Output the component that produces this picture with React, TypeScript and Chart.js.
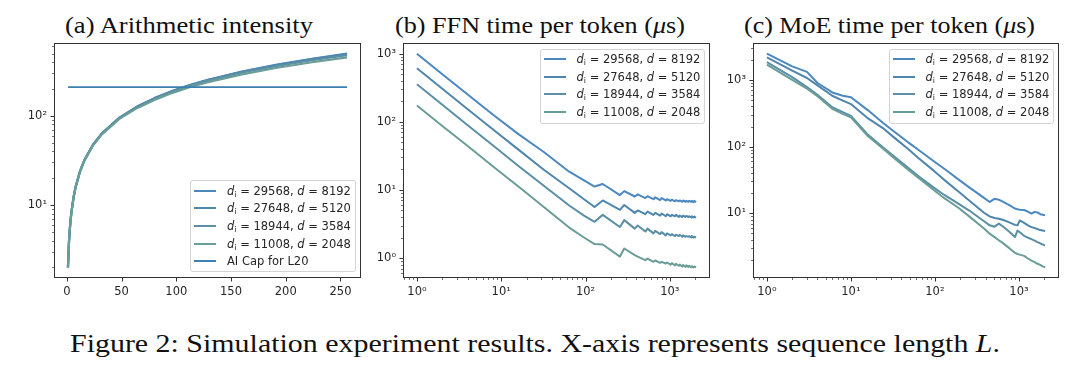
import React, { useEffect, useLayoutEffect, useRef } from 'react';
import { Chart, registerables } from 'chart.js';

Chart.register(...registerables);

const SANS = '"DejaVu Sans", "Noto Sans", sans-serif';
const SERIF = '"Liberation Serif", Tinos, "Times New Roman", Times, serif';

// ---------------- (a) Arithmetic intensity ----------------
const aiSeqLen = [1, 2, 3, 4, 6, 8, 12, 16, 24, 32, 48, 64, 80, 96, 112, 128, 160, 192, 224, 256];
const aiD8192 = [2.0, 4.0, 6.0, 8.0, 12.0, 16.0, 24.0, 31.9, 47.8, 63.7, 95.4, 127, 158, 190, 221, 252, 314, 376, 437, 498];
const aiD5120 = [2.0, 4.0, 6.0, 8.0, 12.0, 15.9, 23.9, 31.8, 47.6, 63.4, 94.9, 126, 157, 188, 219, 250, 311, 372, 432, 492];
const aiD3584 = [2.0, 4.0, 6.0, 8.0, 11.9, 15.9, 23.8, 31.7, 47.4, 63.1, 94.3, 125, 156, 186, 217, 247, 306, 364, 421, 478];
const aiD2048 = [2.0, 4.0, 5.9, 7.9, 11.9, 15.8, 23.6, 31.4, 46.8, 62.0, 92.4, 122, 151, 180, 209, 237, 292, 346, 399, 452];
const aiCapSeqLen = [1, 256];
const aiCapValue = [210, 210];

// ---------------- (b) FFN time per token (us) ----------------
const ffnSeqLen = [1, 2, 4, 8, 16, 32, 64, 96, 128, 160, 256, 288, 384, 416, 512, 544, 640, 672, 768, 800, 896, 928, 1024, 1056, 1152, 1184, 1280, 1312, 1408, 1440, 1536, 1568, 1664, 1696, 1792, 1824, 1920, 1952, 2048];
const ffnD8192 = [1000, 500, 252, 127, 66, 36, 18.5, 13.8, 11.2, 12.2, 8.4, 9.6, 8.0, 8.6, 7.6, 8.1, 7.3, 7.8, 7.1, 7.6, 7.0, 7.3, 6.9, 7.2, 6.8, 7.1, 6.8, 7.0, 6.7, 7.0, 6.7, 6.9, 6.7, 6.9, 6.7, 6.9, 6.6, 6.9, 6.6];
const ffnD5120 = [611, 306, 153, 77, 39, 19.8, 10.6, 7.3, 5.6, 7.0, 5.1, 6.0, 4.6, 5.0, 4.4, 4.8, 4.3, 4.6, 4.2, 4.5, 4.1, 4.4, 4.1, 4.3, 4.1, 4.3, 4.0, 4.2, 4.0, 4.2, 4.0, 4.15, 4.0, 4.1, 3.95, 4.1, 3.95, 4.05, 3.9];
const ffnD3584 = [356, 178, 89, 45, 22.5, 11.5, 5.9, 4.2, 3.4, 4.3, 2.85, 3.6, 2.7, 3.0, 2.45, 2.7, 2.3, 2.5, 2.25, 2.4, 2.15, 2.3, 2.15, 2.25, 2.1, 2.2, 2.1, 2.2, 2.05, 2.15, 2.05, 2.1, 2.05, 2.1, 2.0, 2.1, 2.0, 2.05, 2.0];
const ffnD2048 = [174, 87, 44, 22, 11.2, 5.6, 2.8, 2.0, 1.6, 1.58, 1.05, 1.38, 1.1, 1.05, 0.93, 0.98, 0.88, 0.92, 0.85, 0.88, 0.83, 0.86, 0.8, 0.84, 0.78, 0.82, 0.77, 0.8, 0.75, 0.79, 0.74, 0.78, 0.74, 0.77, 0.73, 0.76, 0.73, 0.75, 0.73];

// ---------------- (c) MoE time per token (us) ----------------
const moeSeqLen = [1, 2, 3, 4, 6, 8, 10, 16, 24, 32, 48, 64, 96, 128, 192, 256, 384, 448, 512, 576, 640, 768, 896, 960, 1024, 1152, 1280, 1408, 1536, 1664, 1792, 1920, 2048];
const moeD8192 = [2480, 1600, 1320, 900, 650, 580, 550, 350, 228, 172, 116, 89, 61, 47, 32, 24.5, 17, 14.8, 16.5, 16.0, 15.0, 13.3, 11.8, 11.5, 11.3, 11.2, 10.6, 9.9, 10.5, 10.3, 9.7, 9.5, 9.3];
const moeD5120 = [2180, 1380, 1070, 830, 580, 490, 435, 265, 190, 140, 92, 67, 44, 32, 21, 15.5, 10.2, 9.0, 8.5, 8.3, 8.0, 7.3, 6.7, 6.6, 7.8, 7.2, 6.6, 6.2, 6.0, 5.8, 5.6, 5.5, 5.4];
const moeD3584 = [1850, 1100, 780, 600, 390, 330, 290, 150, 98, 73, 48, 36, 24.5, 19, 13.8, 11.0, 7.6, 6.6, 6.3, 7.0, 6.4, 5.3, 4.4, 5.5, 5.2, 4.6, 4.3, 4.1, 3.9, 3.7, 3.55, 3.4, 3.3];
const moeD2048 = [1700, 1000, 740, 570, 370, 310, 275, 143, 94, 69, 45, 34, 22.5, 17, 12, 9.0, 5.9, 4.95, 4.4, 3.95, 3.6, 3.0, 2.55, 2.45, 2.4, 2.3, 2.1, 1.95, 1.85, 1.75, 1.68, 1.6, 1.55];

// ---------------- labels / ticks ----------------
const seriesDi = ['29568', '27648', '18944', '11008'];
const seriesD = ['8192', '5120', '3584', '2048'];
const capLabel = 'AI Cap for L20';
const seriesColors = ['#4c88c0', '#4f86ad', '#5a8fa6', '#6a9d98'];
const capColor = '#3c7fb1';

const aiXTicks = [0, 50, 100, 150, 200, 250];
const aiXRange = [-11.75, 268.75];
const aiYRange = [1.52, 656];
const ffnXRange = [0.683, 2999];
const ffnYRange = [0.509, 1435];
const moeXRange = [0.683, 2999];
const moeYRange = [1.07, 3584];

const SUP: Record<string, string> = { '-1': '⁻¹', '0': '⁰', '1': '¹', '2': '²', '3': '³', '4': '⁴' };
const pow10Label = (v: number) => '10' + SUP[String(Math.round(Math.log10(v)))];
const isPow10 = (v: number) => Math.abs(Math.log10(v) - Math.round(Math.log10(v))) < 1e-9;

function logTickValues(min: number, max: number) {
  const out: number[] = [];
  for (let e = Math.floor(Math.log10(min)); e <= Math.ceil(Math.log10(max)); e++) {
    for (let k = 1; k <= 9; k++) {
      const v = Number((k * Math.pow(10, e)).toPrecision(6));
      if (v >= min && v <= max) out.push(v);
    }
  }
  return out;
}

// ---------------- layout constants ----------------
const CANVAS_H = 310;
const PLOT_TOP = 43;
const PLOT_BOTTOM = 278;
const X_AXIS_H = 24;
const TICK_FONT = 11.5;

const axesFrame = {
  id: 'axesFrame',
  afterDraw(chart: any) {
    const { ctx, chartArea: ca, scales } = chart;
    const l = Math.round(ca.left), r = Math.round(ca.right), t = Math.round(ca.top), b = Math.round(ca.bottom);
    ctx.save();
    ctx.strokeStyle = '#333333';
    for (const tk of scales.x.ticks) {
      const px = Math.round(scales.x.getPixelForValue(tk.value)) + 0.5;
      ctx.lineWidth = tk.major ? 1 : 0.7;
      ctx.beginPath();
      ctx.moveTo(px, b);
      ctx.lineTo(px, b + (tk.major ? 3.5 : 2));
      ctx.stroke();
    }
    for (const tk of scales.y.ticks) {
      const py = Math.round(scales.y.getPixelForValue(tk.value)) + 0.5;
      ctx.lineWidth = tk.major ? 1 : 0.7;
      ctx.beginPath();
      ctx.moveTo(l, py);
      ctx.lineTo(l - (tk.major ? 3.5 : 2), py);
      ctx.stroke();
    }
    ctx.lineWidth = 1;
    ctx.strokeRect(l + 0.5, t + 0.5, r - l - 1, b - t - 1);
    ctx.restore();
  },
};

type PanelSpec = {
  canvasLeft: number;
  canvasWidth: number;
  plotLeft: number;
  plotRight: number;
  xType: 'linear' | 'logarithmic';
  xRange: number[];
  xTicks: number[];
  xFmt: (v: number) => string;
  yRange: number[];
  datasets: any[];
};

const toXY = (xs: number[], ys: number[]) => xs.map((x, i) => ({ x, y: ys[i] }));

function lineDs(label: string, xs: number[], ys: number[], color: string, order: number, width = 2) {
  return {
    label,
    data: toXY(xs, ys),
    borderColor: color,
    backgroundColor: color,
    borderWidth: width,
    pointRadius: 0,
    pointHoverRadius: 0,
    tension: 0,
    fill: false,
    order,
    borderJoinStyle: 'round',
    borderCapStyle: 'butt',
  };
}

function axis(type: string, range: number[], ticks: number[], fmt: (v: number) => string, isX: boolean, size: number) {
  return {
    type,
    min: range[0],
    max: range[1],
    bounds: 'data',
    position: isX ? 'bottom' : 'left',
    afterBuildTicks: (s: any) => {
      s.ticks = ticks.map((v) => ({ value: v, major: type === 'linear' ? true : isPow10(v) }));
    },
    afterFit: (s: any) => {
      if (isX) s.height = size;
      else s.width = size;
    },
    ticks: {
      autoSkip: false,
      maxRotation: 0,
      minRotation: 0,
      padding: 3.5,
      color: '#262626',
      font: { family: SANS, size: TICK_FONT },
      callback: (v: number) => (type === 'linear' || isPow10(v) ? fmt(v) : ''),
    },
    grid: {
      display: true,
      drawOnChartArea: false,
      drawTicks: true,
      tickLength: 3.5,
      color: 'rgba(0,0,0,0)',
      tickColor: 'rgba(0,0,0,0)',
    },
    border: { display: false },
  };
}

function ChartPanel({ spec }: { spec: PanelSpec }) {
  const ref = useRef<HTMLCanvasElement>(null);
  useEffect(() => {
    const yW = spec.plotLeft - spec.canvasLeft;
    const chart = new Chart(ref.current as HTMLCanvasElement, {
      type: 'line',
      data: { datasets: spec.datasets },
      options: {
        responsive: false,
        animation: false,
        devicePixelRatio: 1,
        events: [],
        layout: {
          padding: {
            left: 0,
            top: PLOT_TOP,
            right: spec.canvasLeft + spec.canvasWidth - spec.plotRight,
            bottom: CANVAS_H - PLOT_BOTTOM - X_AXIS_H,
          },
        },
        plugins: { legend: { display: false }, tooltip: { enabled: false }, title: { display: false } },
        scales: {
          x: axis(spec.xType, spec.xRange, spec.xTicks, spec.xFmt, true, X_AXIS_H),
          y: axis('logarithmic', spec.yRange, logTickValues(spec.yRange[0], spec.yRange[1]), pow10Label, false, yW),
        },
      } as any,
      plugins: [axesFrame],
    } as any);
    return () => chart.destroy();
  }, []);
  return (
    <canvas
      ref={ref}
      width={spec.canvasWidth}
      height={CANVAS_H}
      style={{ position: 'absolute', left: spec.canvasLeft, top: 0, width: spec.canvasWidth, height: CANVAS_H }}
    />
  );
}

function FitText({ cx, width, baseline, size, children }: any) {
  const ref = useRef<HTMLDivElement>(null);
  useLayoutEffect(() => {
    const el = ref.current;
    if (!el) return;
    el.style.transform = 'none';
    const w = el.getBoundingClientRect().width;
    if (w > 0) el.style.transform = `scaleX(${width / w})`;
  }, [width]);
  return (
    <div
      ref={ref}
      style={{
        position: 'absolute',
        left: cx - width / 2,
        top: baseline - 0.8375 * size,
        fontFamily: SERIF,
        fontSize: size,
        lineHeight: `${size}px`,
        whiteSpace: 'nowrap',
        transformOrigin: 'left top',
        color: '#111',
      }}
    >
      {children}
    </div>
  );
}

const diLabel = (di: string, d: string) => (
  <>
    <i>d</i>
    <sub style={{ fontSize: '68%', verticalAlign: '-0.25em', lineHeight: 0 }}>i</sub> = {di}, <i>d</i> = {d}
  </>
);

function Legend({ left, top, width, height, entries }: any) {
  return (
    <div
      style={{
        position: 'absolute',
        left,
        top,
        width,
        height,
        boxSizing: 'border-box',
        border: '1px solid #d4d4d4',
        borderRadius: 3,
        background: 'rgba(255,255,255,0.85)',
      }}
    >
      {entries.map((e: any, i: number) => (
        <div key={i} style={{ position: 'absolute', left: 0, top: 9.5 + i * 17.7 - 8, height: 16, width: '100%' }}>
          <div style={{ position: 'absolute', left: 3, top: 7, width: 22, height: 2, background: e.color }} />
          <div
            style={{
              position: 'absolute',
              left: 36,
              top: 0,
              lineHeight: '16px',
              fontFamily: SANS,
              fontSize: TICK_FONT,
              color: '#262626',
              whiteSpace: 'nowrap',
            }}
          >
            {e.label}
          </div>
        </div>
      ))}
    </div>
  );
}

const seriesEntries = seriesDi.map((di, i) => ({ color: seriesColors[i], label: diLabel(di, seriesD[i]) }));

export default function App() {
  const aiSeries = [aiD8192, aiD5120, aiD3584, aiD2048];
  const ffnSeries = [ffnD8192, ffnD5120, ffnD3584, ffnD2048];
  const moeSeries = [moeD8192, moeD5120, moeD3584, moeD2048];
  const mkLabel = (i: number) => `d_i = ${seriesDi[i]}, d = ${seriesD[i]}`;

  const panelA: PanelSpec = {
    canvasLeft: 0,
    canvasWidth: 375,
    plotLeft: 54,
    plotRight: 361,
    xType: 'linear',
    xRange: aiXRange,
    xTicks: aiXTicks,
    xFmt: (v) => String(v),
    yRange: aiYRange,
    datasets: [
      ...aiSeries.map((ys, i) => lineDs(mkLabel(i), aiSeqLen, ys, seriesColors[i], -i, 2.2)),
      lineDs(capLabel, aiCapSeqLen, aiCapValue, capColor, -10, 1.8),
    ],
  };
  const panelB: PanelSpec = {
    canvasLeft: 360,
    canvasWidth: 360,
    plotLeft: 403,
    plotRight: 710,
    xType: 'logarithmic',
    xRange: ffnXRange,
    xTicks: logTickValues(ffnXRange[0], ffnXRange[1]),
    xFmt: pow10Label,
    yRange: ffnYRange,
    datasets: ffnSeries.map((ys, i) => lineDs(mkLabel(i), ffnSeqLen, ys, seriesColors[i], -i, 2)),
  };
  const panelC: PanelSpec = {
    canvasLeft: 715,
    canvasWidth: 365,
    plotLeft: 753,
    plotRight: 1059,
    xType: 'logarithmic',
    xRange: moeXRange,
    xTicks: logTickValues(moeXRange[0], moeXRange[1]),
    xFmt: pow10Label,
    yRange: moeYRange,
    datasets: moeSeries.map((ys, i) => lineDs(mkLabel(i), moeSeqLen, ys, seriesColors[i], -i, 2)),
  };

  return (
    <div style={{ position: 'absolute', left: 0, top: 0, width: 1080, height: 366, background: '#fff', overflow: 'hidden' }}>
      <FitText cx={189} width={248} baseline={33} size={24}>
        (a) Arithmetic intensity
      </FitText>
      <FitText cx={540} width={290} baseline={33} size={24}>
        (b) FFN time per token (<i>μ</i>s)
      </FitText>
      <FitText cx={889.5} width={291} baseline={33} size={24}>
        (c) MoE time per token (<i>μ</i>s)
      </FitText>

      <ChartPanel spec={panelA} />
      <ChartPanel spec={panelB} />
      <ChartPanel spec={panelC} />

      <Legend
        left={190}
        top={180}
        width={165.5}
        height={92}
        entries={[...seriesEntries, { color: capColor, label: capLabel }]}
      />
      <Legend left={539.5} top={48.5} width={165} height={75} entries={seriesEntries} />
      <Legend left={888.5} top={48.5} width={165} height={75} entries={seriesEntries} />

      <FitText cx={535} width={930} baseline={352} size={25}>
        Figure 2: Simulation experiment results. X-axis represents sequence length <i>L</i>.
      </FitText>
    </div>
  );
}
